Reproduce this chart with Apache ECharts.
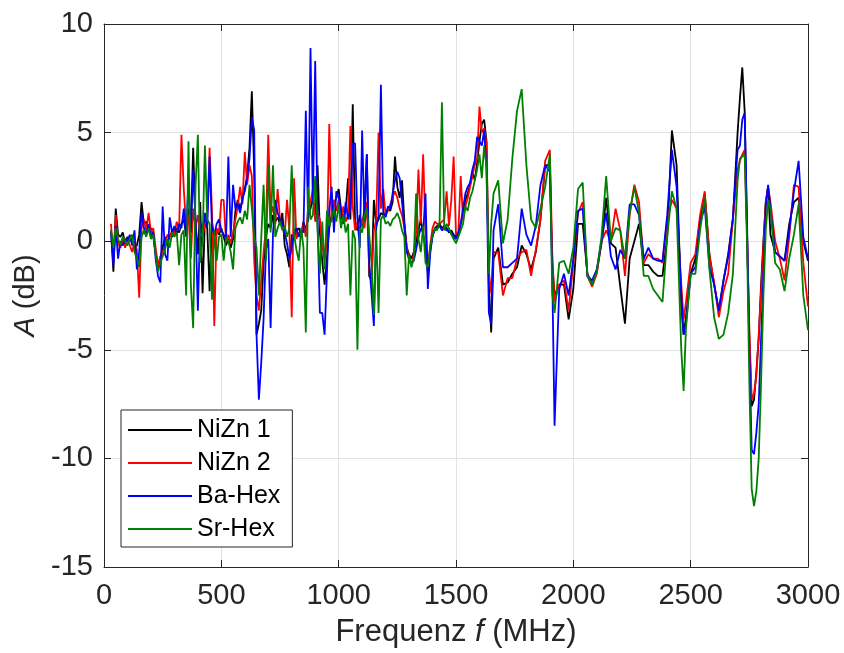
<!DOCTYPE html>
<html>
<head>
<meta charset="utf-8">
<script src="https://cdn.jsdelivr.net/npm/echarts@6/dist/echarts.min.js"></script>
<style>html,body{margin:0;padding:0;background:#fff}#c{width:844px;height:653px}</style>
</head>
<body>
<div id="c"></div>
<script>
// Frequency grid (MHz)
const freq = [
  30,40,50,60,70,80,90,100,110,120,
  130,140,150,160,170,180,190,200,210,220,
  230,240,250,260,270,280,290,300,310,320,
  330,340,350,360,370,380,390,400,410,420,
  430,440,450,460,470,480,490,500,510,520,
  530,540,550,560,570,580,590,600,610,620,
  630,640,650,660,670,680,690,700,710,720,
  730,740,750,760,770,780,790,800,810,820,
  830,840,850,860,870,880,890,900,910,920,
  930,940,950,960,970,980,990,1000,1010,1020,
  1030,1040,1050,1060,1070,1080,1090,1100,1110,1120,
  1130,1140,1150,1160,1170,1180,1190,1200,1210,1220,
  1230,1240,1250,1260,1270,1280,1290,1300,1310,1320,
  1330,1340,1350,1360,1370,1380,1390,1400,1410,1420,
  1430,1440,1450,1460,1470,1480,1490,1500,1510,1520,
  1530,1540,1550,1560,1570,1580,1590,1600,1610,1620,
  1630,1640,1650,
  1660,1680,1700,1720,1740,1760,1780,1800,1820,1840,1860,1880,1900,
  1910,
  1920,1940,1960,1980,2000,2020,2040,2060,2080,2100,2120,2140,2160,2180,
  2200,2220,2240,2260,2280,2300,2320,2340,2360,2380,2400,2420,2440,2460,
  2470,2480,
  2500,2520,2540,2560,2580,2600,2620,2640,2660,2680,2700,
  2710,2720,2730,2740,2750,2760,2770,2780,2790,2800,2810,2820,2830,2840,
  2860,2880,2900,2920,2940,2960,2980,3000
];

const nizn1 = [
  0.5,-1.4,1.5,0.3,0.2,0.4,-0.1,0.2,0.0,0.1,
  -0.3,-0.2,0.3,1.8,0.8,0.9,0.5,0.6,0.2,-0.5,
  -1.2,-0.8,-0.3,0.2,-0.2,0.3,0.2,0.5,0.6,0.4,
  0.8,1.0,0.3,1.5,0.6,4.3,0.8,-0.6,1.8,-2.4,
  1.0,0.6,-2.3,0.9,0.2,0.5,0.3,0.6,0.2,-0.2,
  0.1,-0.3,0.1,1.4,1.9,1.5,1.9,2.4,3.0,4.3,
  6.9,3.2,-4.3,-3.8,-3.2,-1.0,0.2,0.8,0.6,1.2,
  0.9,1.1,0.8,1.3,-0.2,-0.6,-1.2,0.3,0.2,0.5,
  0.6,0.3,0.9,0.5,1.1,1.5,2.0,1.2,3.5,0.4,
  -0.9,-2.0,-0.8,0.6,1.2,1.7,2.0,2.4,1.5,1.0,
  1.4,2.9,1.0,6.3,0.8,0.5,1.2,0.7,1.5,4.0,
  -1.6,-1.8,1.9,0.8,1.0,1.3,1.2,1.3,1.5,1.4,
  1.8,3.9,2.5,2.0,2.8,0.9,-0.3,-0.6,-0.8,-0.5,
  0.0,0.5,1.0,0.3,-0.3,-1.5,-0.4,0.2,0.6,0.7,
  0.8,0.6,0.7,0.6,0.4,0.5,0.3,0.2,0.3,0.8,
  1.2,1.9,2.2,2.6,3.2,2.8,3.6,4.6,5.4,5.6,
  4.6,-2.0,-4.2,
  -0.8,-0.3,-2.0,-1.9,-1.5,-1.2,-0.2,-0.6,-1.3,-0.5,1.0,3.5,3.5,
  -1.0,
  -2.5,-2.0,-2.0,-3.6,-2.2,0.8,0.8,-1.5,-2.0,-1.4,-0.1,2.0,-0.1,-0.3,
  -2.1,-3.8,-0.8,0.0,0.8,-1.1,-1.1,-1.4,-1.6,-1.6,0.2,5.1,3.5,-3.0,
  -4.3,-3.5,
  -1.5,-0.8,1.0,2.2,-0.6,-2.0,-3.2,-1.8,-0.6,1.0,5.0,
  6.6,8.0,6.0,0.5,-4.5,-7.6,-7.3,-6.0,-4.5,-2.0,0.0,1.8,2.5,0.3,
  -0.5,-0.7,-0.9,0.8,1.8,2.0,0.0,-0.9
];

const nizn2 = [
  0.8,-0.9,1.2,-0.1,-0.3,0.1,-0.3,0.1,-0.2,-0.5,
  0.0,-0.4,-2.6,0.6,1.0,0.5,1.3,0.4,0.6,-0.3,
  -1.1,-0.7,-0.5,-0.2,0.3,0.2,0.5,0.3,0.9,0.5,
  4.9,2.4,0.7,1.2,-0.8,1.5,0.6,1.2,0.4,0.2,
  0.8,1.1,4.3,1.4,-3.9,0.6,0.4,1.9,1.9,0.0,
  0.3,-0.1,0.4,1.0,1.6,2.5,1.7,4.1,2.6,3.5,
  3.0,-0.9,-2.5,-3.2,-1.8,-0.5,0.6,4.9,1.2,1.6,
  0.8,2.4,1.0,0.7,0.3,1.9,0.5,-3.5,2.9,0.1,
  0.4,0.2,0.8,0.2,1.5,1.8,2.4,0.9,1.3,1.0,
  -0.3,-0.7,-0.2,5.4,0.9,1.9,1.4,1.9,1.0,1.6,
  0.9,1.2,5.3,1.6,0.5,0.9,0.4,1.0,0.6,1.8,
  -1.2,-2.0,0.5,1.0,5.0,1.5,2.4,1.2,1.4,1.7,
  2.0,2.3,2.0,1.5,1.2,0.6,-0.2,-0.9,-1.1,-0.6,
  0.4,3.3,0.8,4.0,0.5,-1.2,-0.2,0.6,0.9,0.8,
  0.8,0.9,1.0,2.3,0.7,1.9,3.9,0.3,0.4,3.0,
  1.0,1.6,2.0,2.5,3.0,3.5,3.8,6.2,5.0,5.2,
  4.5,-1.4,-2.4,
  -0.5,-0.5,-2.5,-1.7,-1.7,-0.8,-0.5,-0.4,-1.6,-0.4,1.0,3.7,4.2,
  -0.5,
  -2.8,-2.0,-1.8,-3.2,-1.0,1.3,1.8,-1.6,-2.1,-1.5,0.0,0.5,0.0,1.5,
  0.5,-1.6,1.2,2.6,1.8,-1.0,-0.6,-0.8,-0.8,-1.0,1.0,1.9,1.5,-2.0,
  -3.6,-2.8,
  -1.0,-0.6,1.2,2.3,-0.7,-1.9,-3.5,-2.3,-1.5,1.0,3.3,
  3.7,4.0,4.2,0.5,-4.0,-7.3,-7.0,-6.2,-4.3,-2.3,-0.2,1.8,2.5,1.8,
  0.0,-0.8,-1.8,0.2,2.6,2.5,-1.0,-3.0
];

const baHex = [
  0.4,-1.1,0.7,-0.8,0.0,-0.2,0.1,0.0,0.3,-0.2,
  0.5,-1.3,-0.5,1.3,0.6,0.3,0.8,0.2,0.4,-0.8,
  -1.6,-1.9,1.6,-0.6,-0.9,1.1,0.4,0.7,0.3,0.8,
  0.6,1.5,0.2,2.8,0.4,3.3,1.0,-3.2,0.9,0.5,
  1.3,0.7,3.9,0.6,0.3,0.8,1.0,0.5,0.3,0.1,
  3.9,0.2,2.6,1.5,1.7,1.3,2.0,2.3,2.9,3.8,
  5.7,5.1,-4.3,-7.3,-5.6,-3.6,-0.4,0.1,-4.0,0.3,
  1.9,1.3,1.0,0.8,0.4,-0.1,-0.8,-0.3,0.4,0.6,
  0.2,0.5,0.4,6.0,0.9,8.9,1.7,8.3,1.0,-3.3,
  -3.3,-4.3,-1.5,1.5,2.5,0.4,2.3,2.0,1.3,0.8,
  1.8,1.0,1.5,4.5,4.5,1.0,-0.3,5.1,0.9,4.0,
  -1.0,-2.4,-3.9,0.6,1.2,7.2,1.3,1.1,1.6,1.5,
  2.2,2.8,3.2,2.9,1.8,0.7,-0.5,-0.8,-1.0,-0.9,
  -0.4,0.2,0.6,0.4,2.2,-2.2,-0.6,0.3,0.5,0.6,
  0.7,0.5,0.6,0.5,0.5,0.4,0.2,0.1,0.4,0.8,
  1.5,2.2,2.5,2.7,3.3,3.7,4.8,4.6,4.4,5.1,
  3.3,-3.3,-3.8,
  0.5,1.7,-1.2,-1.2,-1.0,-0.8,1.5,0.3,-0.2,0.7,2.6,3.5,3.2,
  -1.5,
  -8.5,-2.2,-1.5,-2.5,-0.8,1.4,1.5,-1.6,-1.8,-1.3,0.0,1.3,-0.7,-1.3,
  -0.4,-0.8,1.7,1.7,1.2,-0.8,-0.3,-0.8,-0.9,-0.9,1.2,4.2,2.5,-2.5,
  -4.3,-3.8,
  -1.5,-1.2,0.8,1.6,-1.2,-2.0,-3.2,-1.8,-0.7,1.1,4.2,
  4.4,5.6,5.9,1.0,-5.0,-9.6,-9.8,-8.8,-7.5,-4.5,-1.5,1.6,2.6,1.5,
  -0.5,-0.7,-0.9,0.5,2.3,3.7,0.2,-0.8
];

const srHex = [
  0.5,-0.3,0.6,0.1,-0.2,0.2,0.0,-0.2,0.1,0.3,
  -0.5,-0.8,-1.2,0.2,0.5,0.2,0.6,0.1,0.3,-0.6,
  -1.4,-1.0,-0.7,-0.4,0.1,-0.3,0.4,0.2,0.4,-1.1,
  0.3,0.5,-2.5,4.6,-2.0,-4.0,2.5,4.9,-1.0,0.0,
  4.4,1.0,0.8,-2.7,0.5,-0.9,0.2,0.3,-0.9,0.2,
  0.0,-0.5,-1.3,0.6,0.9,1.1,0.8,1.4,1.0,2.6,
  1.5,0.2,-0.3,-2.5,0.1,2.6,-0.9,3.5,0.4,3.5,
  0.2,0.6,0.9,0.5,0.7,0.2,0.6,3.5,0.3,-0.4,
  -0.9,0.6,-0.3,-4.2,2.5,1.0,1.2,3.0,0.5,-1.5,
  0.9,-1.3,1.4,0.7,1.0,1.5,0.9,1.7,0.6,1.2,
  0.4,0.8,-2.5,0.5,0.1,-5.0,0.6,0.4,1.2,1.5,
  0.3,-1.0,-3.4,0.5,-3.3,1.0,1.2,0.8,0.9,0.7,
  1.0,1.1,1.3,1.0,0.5,0.2,-2.5,-0.6,-1.2,-0.8,
  2.2,0.1,-0.5,0.7,-1.0,-1.2,-0.3,0.3,0.6,0.5,
  0.9,6.4,0.5,0.8,0.6,0.3,0.1,-0.1,0.2,0.5,
  0.8,1.6,1.4,2.0,2.3,2.8,3.3,4.0,2.9,4.4,
  3.4,-1.5,0.8,
  2.2,2.8,-0.1,1.0,3.8,6.0,7.0,3.5,1.0,0.6,1.5,2.5,4.0,
  -2.4,
  -3.3,-1.0,-0.9,-1.5,-0.3,2.4,2.7,-1.6,-2.0,-1.4,0.2,3.0,0.0,0.6,
  0.5,-0.8,1.3,2.5,1.3,-1.6,-1.6,-2.2,-2.5,-2.8,0.2,2.3,1.5,-5.0,
  -6.9,-4.0,
  -1.5,-1.5,0.5,2.0,-1.3,-3.5,-4.5,-4.3,-3.3,-1.5,2.8,
  3.8,3.9,4.0,0.0,-6.5,-11.4,-12.2,-11.5,-10.0,-6.5,-2.5,0.5,1.9,1.5,
  -1.0,-1.3,-2.3,-0.8,0.3,1.7,-2.5,-4.1
];

const seriesNames = ['NiZn 1', 'NiZn 2', 'Ba-Hex', 'Sr-Hex'];
const seriesValues = [nizn1, nizn2, baHex, srHex];
const seriesColors = ['#000000', '#ff0000', '#0000ff', '#008000'];

const FONT = 'Liberation Sans, Arial, Helvetica, sans-serif';
const AX = '#262626';

function pairs(vals) {
  const out = [];
  for (let i = 0; i < freq.length && i < vals.length; i++) out.push([freq[i], vals[i]]);
  return out;
}

const chart = echarts.init(document.getElementById('c'), null, {renderer: 'canvas'});

const axisCommon = {
  axisLine: {show: true, onZero: false, lineStyle: {color: AX, width: 1}},
  axisTick: {show: true, inside: true, length: 7, lineStyle: {color: AX, width: 1}},
};

chart.setOption({
  animation: false,
  backgroundColor: '#ffffff',
  grid: {left: 104, right: 36, top: 24, bottom: 85, containLabel: false},
  xAxis: [
    Object.assign({
      type: 'value', min: 0, max: 3000, interval: 500, position: 'bottom',
      name: '{a|Frequenz }{i|f}{a| (MHz)}', nameLocation: 'middle', nameGap: 50,
      nameTextStyle: {rich: {
        a: {fontSize: 31, fontFamily: FONT, color: AX},
        i: {fontSize: 31, fontFamily: FONT, color: AX, fontStyle: 'italic'}
      }},
      axisLabel: {show: true, fontSize: 29, fontFamily: FONT, color: AX, margin: 14,
                  formatter: v => String(v)},
      splitLine: {show: true, lineStyle: {color: '#e2e2e2', width: 1}}
    }, axisCommon),
    Object.assign({
      type: 'value', min: 0, max: 3000, interval: 500, position: 'top',
      axisLabel: {show: false}, splitLine: {show: false}
    }, axisCommon)
  ],
  yAxis: [
    Object.assign({
      type: 'value', min: -15, max: 10, interval: 5, position: 'left',
      name: '{i|A}{a| (dB)}', nameLocation: 'middle', nameGap: 58, nameRotate: 90,
      nameTextStyle: {rich: {
        a: {fontSize: 29, fontFamily: FONT, color: AX},
        i: {fontSize: 29, fontFamily: FONT, color: AX, fontStyle: 'italic'}
      }},
      axisLabel: {show: true, fontSize: 29, fontFamily: FONT, color: AX, margin: 11,
                  formatter: v => String(v)},
      splitLine: {show: true, lineStyle: {color: '#e2e2e2', width: 1}}
    }, axisCommon),
    Object.assign({
      type: 'value', min: -15, max: 10, interval: 5, position: 'right',
      axisLabel: {show: false}, splitLine: {show: false}
    }, axisCommon)
  ],
  legend: {
    orient: 'vertical', left: 121, top: 410,
    icon: 'rect', itemWidth: 64, itemHeight: 2, itemGap: 5,
    padding: [6, 12, 4, 7],
    backgroundColor: '#ffffff', borderColor: AX, borderWidth: 1,
    textStyle: {fontSize: 25, fontFamily: FONT, color: '#000', lineHeight: 28},
    data: seriesNames
  },
  series: seriesNames.map((n, k) => ({
    name: n, type: 'line', xAxisIndex: 0, yAxisIndex: 0,
    data: pairs(seriesValues[k]),
    symbol: 'none', showSymbol: false,
    lineStyle: {color: seriesColors[k], width: 1.8},
    itemStyle: {color: seriesColors[k]},
    emphasis: {disabled: true}, z: 2 + k
  }))
});
</script>
</body>
</html>
